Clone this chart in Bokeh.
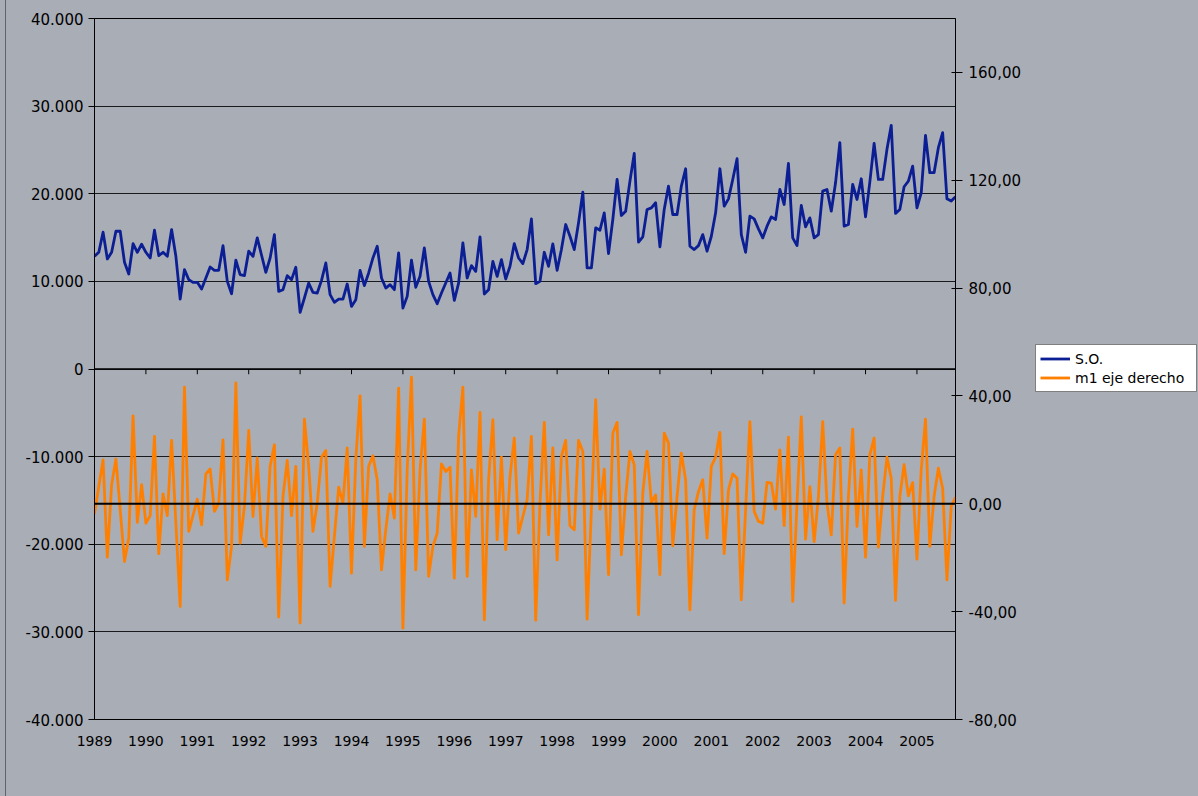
from bokeh.plotting import figure
from bokeh.layouts import row
from bokeh.models import (Range1d, LinearAxis, FixedTicker, Span, Legend, LegendItem,
                          GlobalInlineStyleSheet)
from bokeh.embed import file_html
from bokeh.resources import INLINE

# ---- data (monthly, starting January 1989) ----
start_year = 1989
year_labels = [str(y) for y in range(1989, 2006)]

so_values = [
    12860, 13320, 15610, 12560, 13320, 15720, 15720, 12180, 10840, 14310, 13320, 14240,
    13320, 12670, 15840, 12940, 13320, 12860, 15910, 12860, 7980, 11340, 10200, 9890,
    9890, 9130, 10390, 11640, 11260, 11260, 14080, 10000, 8590, 12410,
    10770, 10650, 13440, 12860, 14960, 12980, 11030, 12670, 15340, 8860, 9050, 10650,
    10200, 11610, 6460, 8100, 9810, 8750, 8670, 10120, 12100, 8480, 7600, 7980,
    7980, 9700, 7140, 7910, 11260, 9510, 10960, 12670, 14010,
    10390, 9240, 9620, 9050, 13250, 6950, 8290, 12410, 9320, 10580, 13820, 10000,
    8480, 7450, 8670, 9810, 10960, 7830, 9810, 14390, 10390, 11800, 11150, 15080,
    8560, 9050, 12290, 10580, 12480, 10270, 11720, 14310, 12670, 12030,
    13630, 17130, 9740, 10000, 13320, 11720, 14280, 11260, 13630, 16490, 15150, 13630,
    16680, 20190, 11530, 11530, 16110, 15840, 17820, 13170, 17060, 21630, 17520, 18010,
    21440, 24610, 14470, 15080, 18200, 18390, 18970, 13930, 18200, 20870,
    17630, 17630, 20870, 22850, 14010, 13630, 14080, 15340, 13440, 15150, 17820, 22850,
    18580, 19420, 21630, 24000, 15340, 13320, 17440, 17130, 15990, 14960, 16300, 17360,
    17060, 20490, 18770, 23460, 14960, 14080, 18660, 16220, 17250,
    14960, 15340, 20300, 20490, 18010, 21250, 25830, 16300, 16490, 21060, 19350, 21710,
    17360, 21330, 25750, 21630, 21630, 25070, 27810, 17750, 18200, 20800, 21440, 23160,
    18390, 20110, 26670, 22400, 22400, 25260, 26970, 19420, 19160, 19650,
]

m1_values = [
    -3.7, 6.4, 16.3, -19.8, 7.1, 16.6, -2.2, -21.4, -12.7, 32.6, -6.9, 7.1,
    -7.2, -4.4, 25.0, -18.5, 3.7, -4.4, 23.5, -7.2, -38.1, 43.3, -10.2, -4.3,
    1.7, -7.8, 11.1, 12.9, -2.8, 0.3, 23.7, -28.2, -15.8, 44.8,
    -14.6, -1.0, 27.2, -4.7, 17.0, -12.1, -15.8, 13.9, 21.9, -42.0, 2.7, 16.1,
    -4.4, 13.9, -44.2, 31.4, 13.9, -10.2, 0.3, 17.3, 19.8, -30.6, -12.1, 6.2,
    0.3, 20.7, -25.7, 16.3, 40.1, -15.8, 13.9, 17.8, 8.9, -24.5,
    -9.6, 3.7, -5.3, 42.9, -46.1, 12.6, 47.0, -24.5, 12.6, 31.4, -26.9, -15.8,
    -10.9, 14.8, 12.0, 13.6, -27.6, 25.0, 43.3, -26.9, 12.6, -4.7, 33.9, -43.0,
    8.9, 31.2, -13.3, 17.3, -17.0, 10.1, 24.4, -10.9, -4.7,
    1.5, 25.0, -43.2, 0.3, 30.2, -11.5, 20.7, -20.8, 17.6, 23.5, -8.1, -9.6,
    23.5, 19.4, -42.8, -2.2, 38.6, -2.0, 12.9, -26.3, 26.2, 30.2, -18.9, 2.7,
    19.4, 14.5, -41.1, 4.0, 19.4, 0.5, 3.3, -26.3, 26.2, 22.5,
    -15.6, 2.7, 18.8, 8.9, -39.3, -2.2, 4.6, 8.9, -12.7, 13.9, 17.3, 26.5,
    -18.5, 5.2, 11.1, 9.5, -35.6, -2.2, 30.5, -2.8, -6.5, -7.2, 7.9, 7.7,
    -2.0, 20.0, -8.1, 24.7, -36.2, 0.3, 32.2, -13.1, 6.4,
    -14.0, 2.7, 30.5, 0.3, -11.5, 18.2, 20.7, -36.8, 2.7, 27.7, -8.4, 12.6,
    -19.8, 18.2, 24.4, -16.1, 2.7, 17.3, 9.5, -35.8, 2.7, 14.5, 3.0, 7.9,
    -20.5, 12.6, 31.4, -15.8, 2.7, 13.2, 5.8, -28.2, -1.0, 2.5,
]

left_ticks = [-40000, -30000, -20000, -10000, 0, 10000, 20000, 30000, 40000]
left_labels = ["-40.000", "-30.000", "-20.000", "-10.000", "0",
               "10.000", "20.000", "30.000", "40.000"]
right_ticks = [-80, -40, 0, 40, 80, 120, 160]
right_labels = ["-80,00", "-40,00", "0,00", "40,00", "80,00", "120,00", "160,00"]

series_names = ["S.O.", "m1 eje derecho"]

months = list(range(len(so_values)))
year_ticks = [12 * k for k in range(len(year_labels))]

# ---- styling ----
BG = "#A9ADB6"
EDGE = "#60636A"
FONT = "DejaVu Sans"
XSIZE = "14px"
YSIZE = "15px"
BLUE = "#0B1E94"
ORANGE = "#FF8000"

css = ("html { background-color: %s; } "
       "body { background: linear-gradient(to right, %s 0px, %s 5px, %s 5px, %s 6px, %s 6px); }"
       % (BG, BG, BG, EDGE, EDGE, BG))

p = figure(frame_width=861, frame_height=701, output_backend="svg", toolbar_location=None,
           x_range=Range1d(0, len(so_values) - 1), y_range=Range1d(-40000, 40000),
           min_border_left=94, min_border_right=80, min_border_top=18,
           min_border_bottom=77)
p.stylesheets = [GlobalInlineStyleSheet(css=css)]
p.background_fill_color = BG
p.border_fill_color = BG
p.border_fill_alpha = 0
p.outline_line_color = "black"
p.outline_line_width = 1

p.extra_y_ranges = {"right": Range1d(-80, 180)}

# x axis (labels at the bottom)
p.xaxis.ticker = FixedTicker(ticks=year_ticks)
p.xaxis.major_label_overrides = {t: l for t, l in zip(year_ticks, year_labels)}
p.xaxis.axis_line_color = None
p.xaxis.major_tick_line_color = None
p.xaxis.minor_tick_line_color = None
p.xaxis.major_label_standoff = 10
p.xaxis.major_label_text_font = FONT
p.xaxis.major_label_text_font_size = XSIZE
p.xaxis.major_label_text_color = "black"

# left axis
p.yaxis.ticker = FixedTicker(ticks=left_ticks)
p.yaxis.major_label_overrides = {t: l for t, l in zip(left_ticks, left_labels)}
p.yaxis.axis_line_color = "black"
p.yaxis.major_tick_line_color = "black"
p.yaxis.major_tick_in = 0
p.yaxis.major_tick_out = 6
p.yaxis.minor_tick_line_color = None
p.yaxis.major_label_standoff = 5
p.yaxis.major_label_text_font = FONT
p.yaxis.major_label_text_font_size = YSIZE
p.yaxis.major_label_text_color = "black"

# right axis
ra = LinearAxis(y_range_name="right", ticker=FixedTicker(ticks=right_ticks))
ra.major_label_overrides = {t: l for t, l in zip(right_ticks, right_labels)}
ra.axis_line_color = "black"
ra.major_tick_line_color = "black"
ra.major_tick_in = 4
ra.major_tick_out = 7
ra.minor_tick_line_color = None
ra.major_label_standoff = 6
ra.major_label_text_font = FONT
ra.major_label_text_font_size = YSIZE
ra.major_label_text_color = "black"
p.add_layout(ra, "right")

# grid
p.xgrid.visible = False
p.ygrid.grid_line_color = "black"
p.ygrid.grid_line_alpha = 0.85
p.ygrid.grid_line_width = 1

# category axis at left-0 with year tick marks
p.add_layout(Span(location=0, dimension="width", line_color="black", line_width=1.5))
p.segment(x0=year_ticks, y0=[0] * len(year_ticks), x1=year_ticks,
          y1=[-600] * len(year_ticks), line_color="black", line_width=1)

p.line(months, so_values, line_color=BLUE, line_width=2.8, line_join="round")
p.line(months, m1_values, y_range_name="right", line_color=ORANGE,
       line_width=2.8, line_join="round")

# secondary category axis at right-0
p.add_layout(Span(location=0, dimension="width", y_range_name="right",
                  line_color="black", line_width=2))

# ---- legend panel (to the right of the chart) ----
# its ranges lie outside the data, so only the legend itself shows
lf = figure(width=163, height=796, output_backend="svg", toolbar_location=None,
            x_range=Range1d(-20, -10), y_range=Range1d(-20000, -10000),
            x_axis_type=None, y_axis_type=None, min_border=0)
lf.background_fill_color = BG
lf.background_fill_alpha = 0
lf.border_fill_color = BG
lf.border_fill_alpha = 0
lf.outline_line_color = None
lf.xgrid.visible = False
lf.ygrid.visible = False
g1 = lf.line(months, so_values, line_color=BLUE, line_width=2.8)
g2 = lf.line(months, so_values, line_color=ORANGE, line_width=2.8)

legend = Legend(items=[LegendItem(label=series_names[0], renderers=[g1]),
                       LegendItem(label=series_names[1], renderers=[g2])],
                location=(0, 327))
legend.background_fill_color = "white"
legend.background_fill_alpha = 1
legend.border_line_color = "black"
legend.border_line_width = 1
legend.label_text_font = FONT
legend.label_text_font_size = XSIZE
legend.label_text_color = "black"
legend.glyph_width = 30
legend.glyph_height = 19
legend.label_height = 19
legend.label_width = 117
legend.label_standoff = 5
legend.padding = 4
legend.spacing = 0
legend.margin = 0
lf.add_layout(legend, "center")

layout = row(p, lf, spacing=0)
open("out.html", "w").write(file_html(layout, INLINE))
